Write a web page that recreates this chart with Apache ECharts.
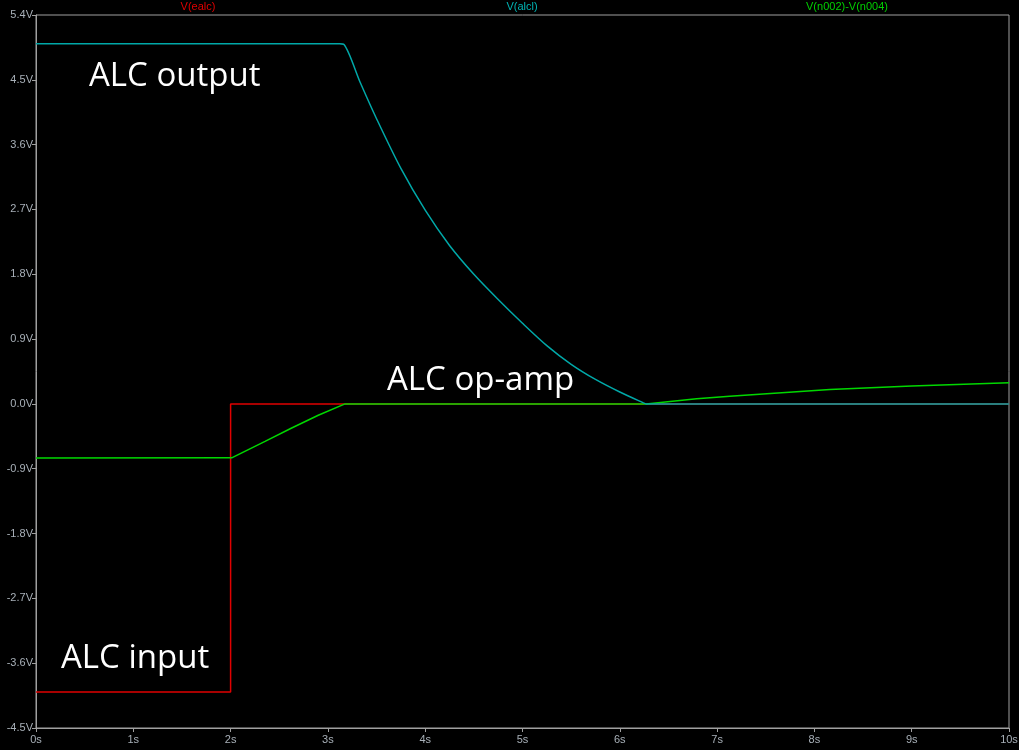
<!DOCTYPE html>
<html>
<head>
<meta charset="utf-8">
<script src="https://cdn.jsdelivr.net/npm/echarts@6/dist/echarts.min.js"></script>
<style>
html,body{margin:0;padding:0;background:#000;}
#chart{width:1019px;height:750px;}
</style>
</head>
<body>
<div id="chart"></div>
<script>
// Data (time in s, voltage in V)
const xTicks = [0,1,2,3,4,5,6,7,8,9,10];
const yTicks = [5.4,4.5,3.6,2.7,1.8,0.9,0.0,-0.9,-1.8,-2.7,-3.6,-4.5];
const seriesNames = ['V(ealc)', 'V(alcl)', 'V(n002)-V(n004)'];

const ealcT = [0, 2, 2, 10];
const ealcV = [-4.0, -4.0, 0.0, 0.0];

const alclT = [0, 3.12, 3.165, 3.33, 3.5, 3.75, 4.0, 4.25, 4.5, 4.75, 5.0, 5.25, 5.5, 5.75, 6.0, 6.242, 6.27, 6.4, 10];
const alclV = [5.0, 5.0, 4.99, 4.47, 3.96, 3.27, 2.69, 2.2, 1.8, 1.45, 1.12, 0.81, 0.55, 0.34, 0.165, 0.015, 0.0, 0.0, 0.0];

const opampT = [0, 2.011, 2.354, 2.628, 2.901, 3.176, 6.27, 6.79, 7.13, 8.16, 9.0, 10];
const opampV = [-0.75, -0.749, -0.52, -0.335, -0.158, 0.0, 0.0, 0.07, 0.108, 0.201, 0.247, 0.293];

const annotations = ['ALC output', 'ALC op-amp', 'ALC input'];

const zip = (t, v) => t.map((x, i) => [x, v[i]]);

const axisColor = '#a0a0a0';
const labelColor = '#a8b0b8';

const chart = echarts.init(document.getElementById('chart'));
chart.setOption({
  backgroundColor: '#000',
  animation: false,
  grid: { left: 36, right: 10, top: 15, bottom: 22, show: true, borderColor: axisColor, borderWidth: 1, outerBoundsMode: 'none', containLabel: false },
  xAxis: {
    type: 'value', min: xTicks[0], max: xTicks[xTicks.length - 1], interval: 1,
    axisLine: { show: true, onZero: false, lineStyle: { color: axisColor } },
    axisTick: { show: true, length: 4, lineStyle: { color: axisColor } },
    axisLabel: { color: labelColor, fontFamily: 'Arial, Liberation Sans', fontSize: 11, margin: 6,
      formatter: v => v + 's' },
    splitLine: { show: false }
  },
  yAxis: {
    type: 'value', min: yTicks[yTicks.length - 1], max: yTicks[0], interval: 0.9,
    axisLine: { show: true, onZero: false, lineStyle: { color: axisColor } },
    axisTick: { show: true, length: 4, lineStyle: { color: axisColor } },
    axisLabel: { color: labelColor, fontFamily: 'Arial, Liberation Sans', fontSize: 11, margin: 3,
      formatter: v => { let s = (Math.round(v * 10) / 10).toFixed(1); if (s === '-0.0') s = '0.0'; return s + 'V'; } },
    splitLine: { show: false }
  },
  graphic: [
    { type: 'text', x: 198, y: 7, style: { text: seriesNames[0], fill: '#e00000', font: '11px Arial, "Liberation Sans"', align: 'center', verticalAlign: 'middle' } },
    { type: 'text', x: 522, y: 7, style: { text: seriesNames[1], fill: '#00b4b4', font: '11px Arial, "Liberation Sans"', align: 'center', verticalAlign: 'middle' } },
    { type: 'text', x: 847, y: 7, style: { text: seriesNames[2], fill: '#00d000', font: '11px Arial, "Liberation Sans"', align: 'center', verticalAlign: 'middle' } },
    { type: 'text', x: 89, y: 77, z: 10, style: { text: annotations[0], fill: '#fff', font: '33px "Open Sans"', align: 'left', verticalAlign: 'middle' } },
    { type: 'text', x: 387, y: 381, z: 10, style: { text: annotations[1], fill: '#fff', font: '33px "Open Sans"', align: 'left', verticalAlign: 'middle' } },
    { type: 'text', x: 61, y: 659, z: 10, style: { text: annotations[2], fill: '#fff', font: '33px "Open Sans"', align: 'left', verticalAlign: 'middle' } }
  ],
  series: [
    { name: seriesNames[0], type: 'line', data: zip(ealcT, ealcV), showSymbol: false, lineStyle: { color: '#e00000', width: 1.5 }, z: 1 },
    { name: seriesNames[2], type: 'line', data: zip(opampT, opampV), showSymbol: false, lineStyle: { color: '#00d800', width: 1.5 }, z: 2 },
    { name: seriesNames[1], type: 'line', data: zip(alclT, alclV), showSymbol: false, smooth: 0.3, lineStyle: { color: '#00a8a8', width: 1.5 }, z: 3 }
  ]
});
</script>
</body>
</html>
